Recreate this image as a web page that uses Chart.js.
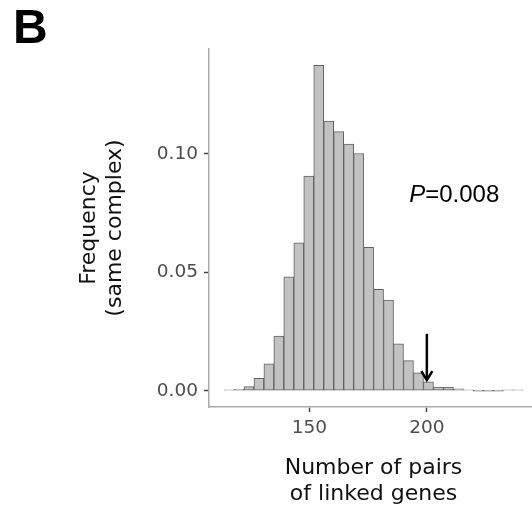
<!DOCTYPE html>
<html><head><meta charset="utf-8">
<script src="https://cdn.jsdelivr.net/npm/chart.js@4.4.1/dist/chart.umd.min.js"></script>
<style>
html,body{margin:0;padding:0;background:#fff;overflow:hidden;width:532px;height:510px}
#wrap{position:absolute;left:0;top:0;width:538px;height:510px}
</style>
</head><body>
<div id="wrap"><canvas id="c"></canvas></div>
<script>
// Histogram bins (centers of the 30 bins) and their frequencies
const binCenters = [115.80, 120.04, 124.29, 128.53, 132.78, 137.02, 141.26, 145.51, 149.75, 154.00,
                    158.24, 162.48, 166.73, 170.97, 175.22, 179.46, 183.70, 187.95, 192.19, 196.44,
                    200.68, 204.92, 209.17, 213.41, 217.66, 221.90, 226.14, 230.39, 234.63, 238.88];
const frequencies = [0.0003, 0.0006, 0.0017, 0.0052, 0.0113, 0.0231, 0.0481, 0.0624, 0.0906, 0.1373,
                     0.1138, 0.1093, 0.1041, 0.1001, 0.0605, 0.0428, 0.0383, 0.0198, 0.0127, 0.0076,
                     0.0038, 0.0015, 0.0015, 0.0008, 0.0003, 0, 0, 0, 0.0002, 0.0002];
const xTickValues = [150, 200];
const yTickValues = [0, 0.05, 0.10];
const xTitle = ['Number of pairs', 'of linked genes'];
const yTitle = ['Frequency', '(same complex)'];
const panelLabel = 'B';
// observed value marked by the arrow
const observedValue = 200;
const arrowFrom = 0.024;
const arrowTo = 0.0045;
const pLabel = ['P', '=0.008'];
const pLabelPos = [192.5, 0.0798];

const annot = {
  id: 'annot',
  afterDatasetsDraw(chart) {
    const ctx = chart.ctx, xs = chart.scales.x, ys = chart.scales.y;
    ctx.save();
    const ax = xs.getPixelForValue(observedValue);
    const y0 = ys.getPixelForValue(arrowFrom), y1 = ys.getPixelForValue(arrowTo);
    ctx.strokeStyle = '#000'; ctx.lineWidth = 2.5;
    ctx.beginPath(); ctx.moveTo(ax, y0); ctx.lineTo(ax, y1); ctx.stroke();
    ctx.beginPath(); ctx.moveTo(ax - 5.5, y1 - 9); ctx.lineTo(ax, y1); ctx.lineTo(ax + 5.5, y1 - 9); ctx.stroke();
    // P value text
    const px = xs.getPixelForValue(pLabelPos[0]), py = ys.getPixelForValue(pLabelPos[1]);
    ctx.fillStyle = '#000'; ctx.textBaseline = 'alphabetic'; ctx.textAlign = 'left';
    ctx.font = 'italic 24px "Liberation Sans", Arial, sans-serif';
    ctx.fillText(pLabel[0], px, py);
    const w = ctx.measureText(pLabel[0]).width;
    ctx.font = '24px "Liberation Sans", Arial, sans-serif';
    ctx.fillText(pLabel[1], px + w, py);
    ctx.restore();
  },
  afterDraw(chart) {
    const ctx = chart.ctx;
    ctx.save();
    ctx.fillStyle = '#000';
    ctx.font = 'bold 48px "Liberation Sans", Arial, sans-serif';
    ctx.textBaseline = 'alphabetic';
    ctx.fillText(panelLabel, 13, 43);
    ctx.restore();
  }
};

new Chart(document.getElementById('c'), {
  type: 'bar',
  data: {
    datasets: [{
      data: binCenters.map((x, i) => ({ x: x, y: frequencies[i] })),
      backgroundColor: '#c2c2c2',
      borderColor: '#606060',
      borderWidth: 1,
      borderSkipped: false,
      barPercentage: 1,
      categoryPercentage: 1,
      minBarLength: 1
    }]
  },
  options: {
    responsive: true,
    maintainAspectRatio: false,
    animation: false,
    devicePixelRatio: 1,
    layout: { padding: { top: 49, left: 0, right: 0, bottom: 0 } },
    plugins: { legend: { display: false }, tooltip: { enabled: false } },
    scales: {
      x: {
        type: 'linear',
        min: 107.3, max: 247.3,
        offset: false,
        afterFit(s) { s.height = 103; },
        afterBuildTicks(s) { s.ticks = xTickValues.map(v => ({ value: v })); },
        border: { display: true, color: '#ababab', width: 1.5 },
        grid: { display: true, drawOnChartArea: false, drawTicks: true, tickLength: 5, tickColor: '#444', tickWidth: 1.5, offset: false },
        ticks: { color: '#4d4d4d', font: { family: 'DejaVu Sans', size: 18.5 }, padding: 5, maxRotation: 0, autoSkip: false },
        title: { display: true, text: xTitle, color: '#111', font: { family: 'DejaVu Sans', size: 22, lineHeight: 1.18 }, padding: { top: 0, bottom: 3 } }
      },
      y: {
        type: 'linear',
        min: -0.00687, max: 0.1442,
        afterFit(s) { s.width = 209; },
        afterBuildTicks(s) { s.ticks = yTickValues.map(v => ({ value: v })); },
        border: { display: true, color: '#ababab', width: 1.5 },
        grid: { display: true, drawOnChartArea: false, drawTicks: true, tickLength: 5, tickColor: '#444', tickWidth: 1.5 },
        ticks: { color: '#4d4d4d', font: { family: 'DejaVu Sans', size: 18.5 }, padding: 6, callback: v => v.toFixed(2) },
        title: { display: true, text: yTitle, color: '#111', font: { family: 'DejaVu Sans', size: 22, lineHeight: 1.2 }, padding: { top: 76, bottom: 0 } }
      }
    }
  },
  plugins: [annot]
});
</script>
</body></html>
